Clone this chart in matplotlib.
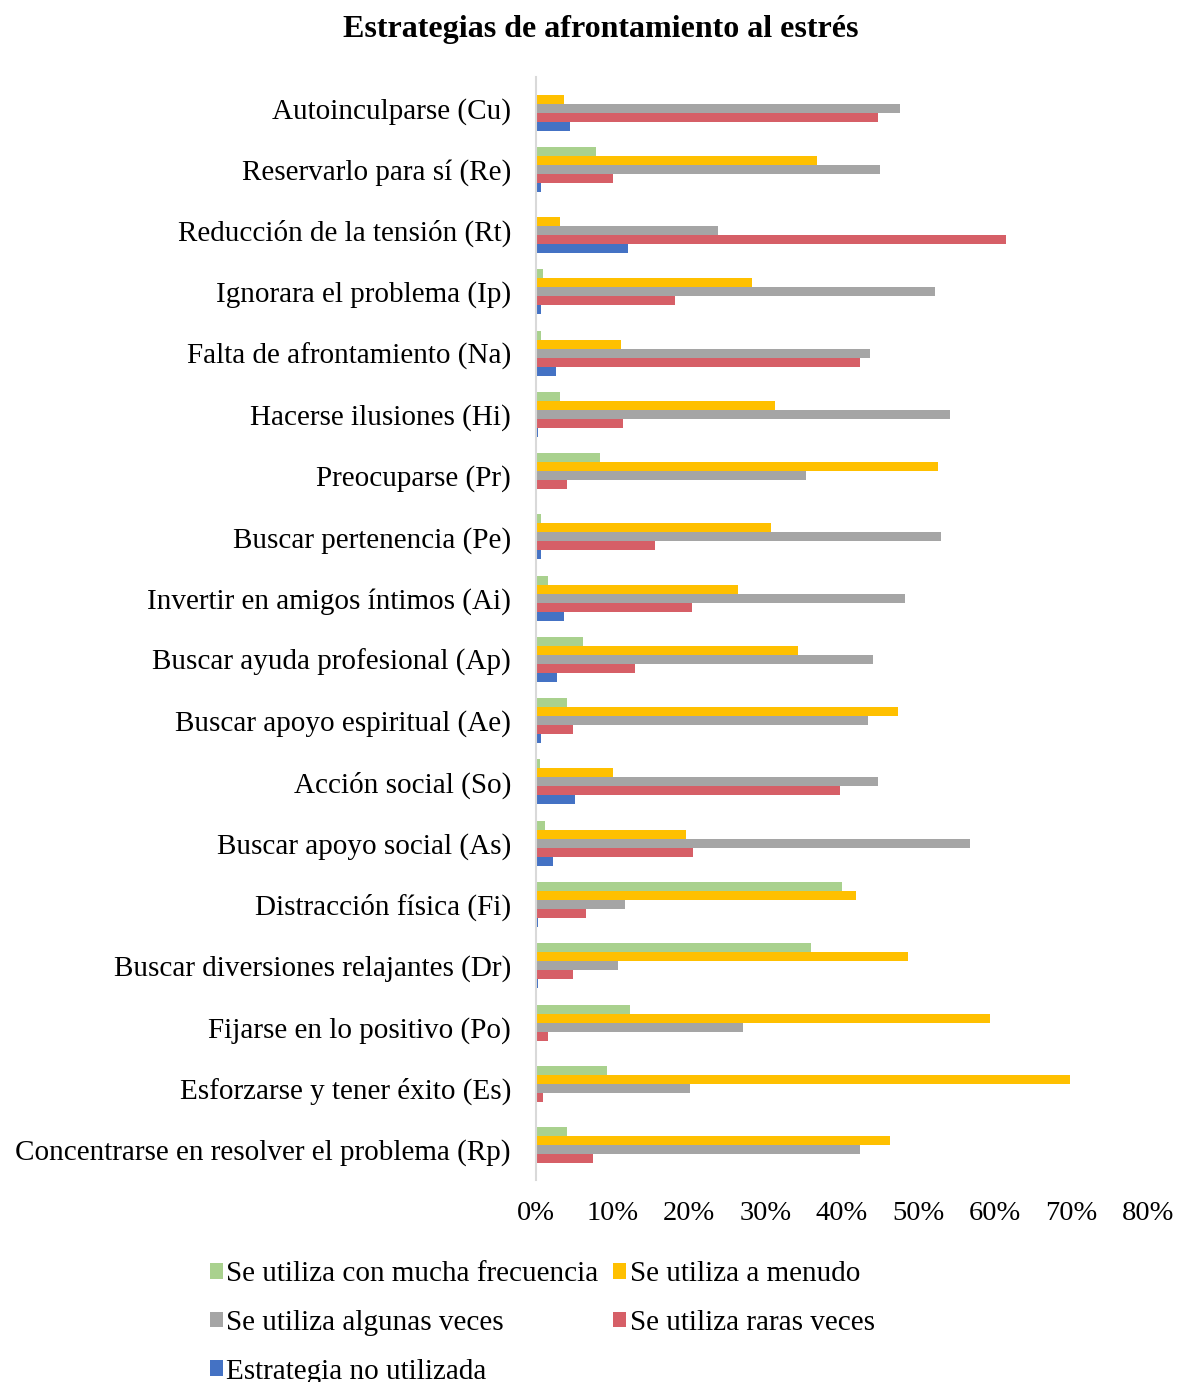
import numpy as np
import matplotlib
matplotlib.use('Agg')
import matplotlib.pyplot as plt

plt.rcParams['font.family'] = ['Liberation Serif', 'DejaVu Serif']

# categories, top to bottom as shown
categories = [
    'Autoinculparse (Cu)',
    'Reservarlo para sí (Re)',
    'Reducción de la tensión (Rt)',
    'Ignorara el problema (Ip)',
    'Falta de afrontamiento (Na)',
    'Hacerse ilusiones (Hi)',
    'Preocuparse (Pr)',
    'Buscar pertenencia (Pe)',
    'Invertir en amigos íntimos (Ai)',
    'Buscar ayuda profesional (Ap)',
    'Buscar apoyo espiritual (Ae)',
    'Acción social (So)',
    'Buscar apoyo social (As)',
    'Distracción física (Fi)',
    'Buscar diversiones relajantes (Dr)',
    'Fijarse en lo positivo (Po)',
    'Esforzarse y tener éxito (Es)',
    'Concentrarse en resolver el problema (Rp)',
]

# percentages per category (same order)
mucha_frecuencia = [0.0, 7.8, 0.0, 0.9, 0.6, 3.1, 8.4, 0.6, 1.6, 6.1,
                    4.1, 0.5, 1.2, 40.0, 35.9, 12.3, 9.3, 4.1]
a_menudo = [3.6, 36.8, 3.1, 28.3, 11.1, 31.3, 52.5, 30.7, 26.4, 34.2,
            47.3, 10.1, 19.6, 41.8, 48.6, 59.3, 69.8, 46.3]
algunas_veces = [47.6, 45.0, 23.8, 52.2, 43.7, 54.1, 35.3, 52.9, 48.3, 44.0,
                 43.4, 44.7, 56.8, 11.7, 10.7, 27.0, 20.1, 42.4]
raras_veces = [44.7, 10.1, 61.4, 18.2, 42.4, 11.4, 4.1, 15.6, 20.4, 13.0,
               4.9, 39.7, 20.5, 6.5, 4.9, 1.6, 0.9, 7.5]
no_utilizada = [4.4, 0.6, 12.0, 0.6, 2.6, 0.2, 0.0, 0.6, 3.6, 2.8,
                0.6, 5.1, 2.2, 0.2, 0.2, 0.0, 0.0, 0.0]

series = [
    ('Se utiliza con mucha frecuencia', mucha_frecuencia, '#A9D18E'),
    ('Se utiliza a menudo', a_menudo, '#FFC000'),
    ('Se utiliza algunas veces', algunas_veces, '#A5A5A5'),
    ('Se utiliza raras veces', raras_veces, '#D65F67'),
    ('Estrategia no utilizada', no_utilizada, '#4472C4'),
]

fig = plt.figure(figsize=(11.78, 13.82), dpi=100)
ax = fig.add_axes([0.455, 0.146, 0.5195, 0.798])

y = np.arange(len(categories))
h = 0.147
bars = []
for i, (label, vals, color) in enumerate(series):
    bars.append(ax.barh(y + (i - 2) * h, vals, height=h, color=color, label=label))

ax.set_ylim(len(categories) - 0.5, -0.5)
ax.set_xlim(0, 80)
ax.set_yticks(y)
ax.set_yticklabels(categories, fontsize=21)
ax.set_xticks(np.arange(0, 81, 10))
ax.set_xticklabels([f'{v}%' for v in range(0, 81, 10)], fontsize=20.5)
ax.tick_params(axis='both', length=0)
ax.tick_params(axis='y', pad=18)
ax.tick_params(axis='x', pad=15)

for s in ['top', 'right', 'bottom']:
    ax.spines[s].set_visible(False)
ax.spines['left'].set_color('#D9D9D9')
ax.spines['left'].set_linewidth(1.5)

fig.text(0.51, 0.979, 'Estrategias de afrontamiento al estrés', ha='center',
         va='center', fontsize=23, fontweight='bold')

# legend reads row by row: reorder for matplotlib's column filling
order = [0, 2, 4, 1, 3]
fig.legend([bars[k] for k in order], [series[k][0] for k in order],
           loc='upper left', bbox_to_anchor=(0.178, 0.0875), ncol=2,
           frameon=False, fontsize=21, handlelength=0.45, handleheight=0.45,
           handletextpad=0.12, columnspacing=0.5, labelspacing=0.78,
           borderpad=0, borderaxespad=0)

fig.savefig('out.png', dpi=100)
